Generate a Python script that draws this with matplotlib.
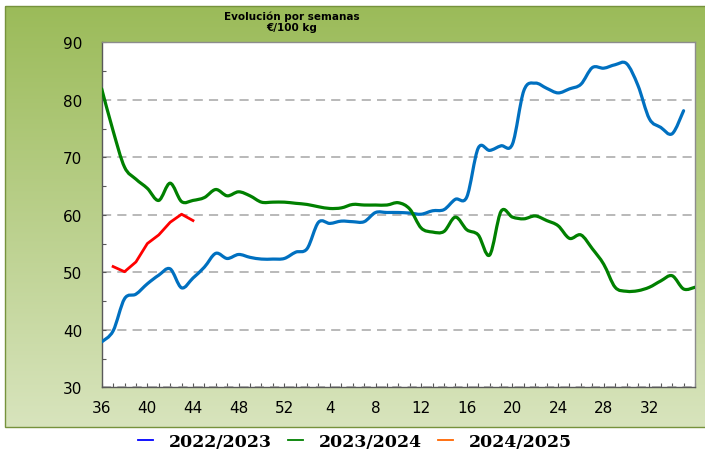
import numpy as np
import matplotlib
matplotlib.use('Agg')
import matplotlib.pyplot as plt
from matplotlib.path import Path
from matplotlib.patches import PathPatch, Rectangle
from matplotlib.lines import Line2D
from matplotlib.colors import LinearSegmentedColormap

# week labels along the x axis (season starts at week 36)
weeks = list(range(36, 53)) + list(range(1, 37))
tick_idx = list(range(0, 49, 4))
tick_labels = [str(weeks[i]) for i in tick_idx]

# prices in €/100 kg, one value per week
s2022 = [37.9, 39.8, 45.4, 46.2, 48.0, 49.5, 50.6, 47.3, 49.0, 50.9,
         53.3, 52.4, 53.1, 52.6, 52.3, 52.3, 52.4, 53.5, 54.1, 58.7,
         58.5, 58.9, 58.8, 58.8, 60.4, 60.4, 60.4, 60.3, 60.1, 60.7,
         60.9, 62.7, 63.1, 71.6, 71.2, 72.0, 72.3, 81.6, 82.9, 82.0,
         81.2, 81.9, 82.7, 85.6, 85.5, 86.1, 86.3, 82.5, 76.7, 75.2,
         74.1, 78.1]
s2023 = [81.9, 74.6, 68.3, 66.2, 64.6, 62.5, 65.5, 62.3, 62.5, 63.0,
         64.4, 63.3, 64.0, 63.3, 62.2, 62.2, 62.2, 62.0, 61.8, 61.4,
         61.1, 61.2, 61.8, 61.7, 61.7, 61.7, 62.1, 61.0, 57.7, 57.0,
         57.1, 59.6, 57.4, 56.5, 53.0, 60.6, 59.6, 59.3, 59.8, 59.0,
         58.1, 55.9, 56.5, 54.1, 51.4, 47.4, 46.7, 46.8, 47.4, 48.5,
         49.4, 47.1, 47.4]
s2024_start = 1
s2024 = [51.0, 50.1, 51.8, 55.0, 56.5, 58.7, 60.1, 59.0]

series_labels = ['2022/2023', '2023/2024', '2024/2025']


def smooth_path(x, y):
    # excel style smoothed line: bezier segments through every point
    pts = np.column_stack([x, y]).astype(float)
    n = len(pts)
    verts = [pts[0]]
    codes = [Path.MOVETO]
    for i in range(n - 1):
        p0 = pts[i - 1] if i > 0 else pts[i]
        p1 = pts[i]
        p2 = pts[i + 1]
        p3 = pts[i + 2] if i + 2 < n else pts[i + 1]
        verts += [p1 + (p2 - p0) / 6, p2 - (p3 - p1) / 6, p2]
        codes += [Path.CURVE4] * 3
    return Path(verts, codes)


W, H = 705, 452
fig = plt.figure(figsize=(W / 100, H / 100), dpi=100)
fig.patch.set_facecolor('white')

# green gradient panel behind the chart
bg = fig.add_axes([0, 0, 1, 1], zorder=-10)
bg.set_xlim(0, W)
bg.set_ylim(H, 0)
bg.axis('off')
cmap = LinearSegmentedColormap.from_list('g', ['#9BBB59', '#D8E4BD'])
grad = np.linspace(0, 1, 256).reshape(-1, 1)
bg.imshow(grad, cmap=cmap, aspect='auto', extent=[5, W, 428, 7])
bg.add_patch(Rectangle((5, 7), W, 421, fill=False, edgecolor='#76923C', lw=1))

ax = fig.add_axes([101.7 / W, 1 - 388.3 / H, (695 - 101.7) / W, (388.3 - 43.3) / H])
ax.set_facecolor('white')

x22 = np.arange(len(s2022))
x23 = np.arange(len(s2023))
x24 = np.arange(len(s2024)) + s2024_start

ax.add_patch(PathPatch(smooth_path(x22, s2022), fill=False, edgecolor='#0070C0',
                       lw=2.3, capstyle='round', joinstyle='round', zorder=3))
ax.add_patch(PathPatch(smooth_path(x23, s2023), fill=False, edgecolor='#008000',
                       lw=2.3, capstyle='round', joinstyle='round', zorder=3))
ax.plot(x24, s2024, color='#FF0000', lw=2.0, solid_joinstyle='round', zorder=4)

ax.set_xlim(0, 52)
ax.set_ylim(30, 90)
ax.set_xticks(tick_idx)
ax.set_xticklabels(tick_labels)
ax.set_xticks(range(0, 53), minor=True)
ax.set_yticks(range(30, 91, 10))
ax.set_yticks(range(35, 90, 10), minor=True)

ax.set_axisbelow(True)
ax.yaxis.grid(True, which='major', color='#A6A6A6', lw=1.1, ls=(0, (6, 4)))

for side in ['top', 'right']:
    ax.spines[side].set_color('#8C8C8C')
for side in ['left', 'bottom']:
    ax.spines[side].set_color('#595959')
for s in ax.spines.values():
    s.set_linewidth(1.0)

ax.tick_params(axis='both', which='both', direction='in', length=3, width=0.8, color='#595959')
ax.tick_params(axis='x', which='major', pad=9, labelsize=11)
ax.tick_params(axis='y', which='major', pad=14, labelsize=11)
for lab in ax.get_xticklabels() + ax.get_yticklabels():
    lab.set_fontfamily('DejaVu Sans')

fig.text(292 / W, 1 - 20 / H, 'Evolución por semanas', ha='center', va='baseline',
         fontsize=7.5, fontweight='bold', family='DejaVu Sans')
fig.text(292 / W, 1 - 31 / H, '€/100 kg', ha='center', va='baseline',
         fontsize=7.5, fontweight='bold', family='DejaVu Sans')

handles = [Line2D([], [], color='#0000FF', lw=1.3),
           Line2D([], [], color='#008000', lw=1.3),
           Line2D([], [], color='#FF6600', lw=1.3)]
fig.legend(handles, series_labels, loc='center', bbox_to_anchor=(355 / W, 1 - 443 / H),
           ncol=3, frameon=False, handlelength=0.9, handletextpad=0.9, columnspacing=0.9,
           prop={'family': 'DejaVu Serif', 'weight': 'bold', 'size': 12.5})

fig.savefig('out.png', dpi=100)
